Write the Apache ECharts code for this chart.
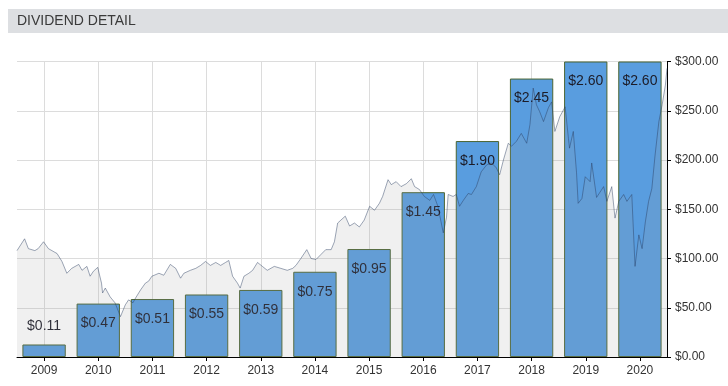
<!DOCTYPE html>
<html>
<head>
<meta charset="utf-8">
<script src="https://cdn.jsdelivr.net/npm/echarts@6/dist/echarts.min.js"></script>
<style>
html,body{margin:0;padding:0;background:#fff;}
#chart{width:728px;height:386px;}
</style>
</head>
<body>
<div id="chart"></div>
<script>
const titleText = 'DIVIDEND DETAIL';
const years = ['2009','2010','2011','2012','2013','2014','2015','2016','2017','2018','2019','2020'];
const dividends = [0.11,0.47,0.51,0.55,0.59,0.75,0.95,1.45,1.90,2.45,2.60,2.60];
const priceTicks = [0,50,100,150,200,250,300];

const priceDates = [
2009.00,2009.02,2009.14,2009.21,2009.33,2009.39,2009.49,2009.58,2009.74,2009.83,2009.92,
2010.01,2010.14,2010.20,2010.29,2010.35,2010.41,2010.49,2010.56,2010.58,2010.63,2010.72,2010.81,2010.91,
2011.00,2011.06,2011.14,2011.19,2011.28,2011.37,2011.43,2011.49,2011.62,2011.71,2011.83,2011.93,
2012.02,2012.08,2012.11,2012.20,2012.30,2012.39,2012.48,2012.57,2012.67,2012.76,2012.85,2012.91,2012.98,
2013.07,2013.12,2013.19,2013.28,2013.35,2013.44,2013.53,2013.62,2013.75,2013.87,2013.99,
2014.09,2014.15,2014.24,2014.35,2014.43,2014.52,2014.61,2014.70,2014.80,2014.86,2014.92,2014.98,
2015.06,2015.14,2015.23,2015.32,2015.41,2015.51,2015.60,2015.69,2015.75,2015.85,2015.91,
2016.00,2016.09,2016.19,2016.28,2016.34,2016.43,2016.52,2016.62,2016.69,2016.77,2016.87,2016.93,2016.96,
2017.05,2017.11,2017.17,2017.24,2017.33,2017.39,2017.48,2017.57,2017.67,2017.76,2017.85,2017.91,2017.98,
2018.07,2018.13,2018.22,2018.31,2018.41,2018.47,2018.53,2018.59,2018.65,2018.72,2018.81,2018.87,2018.93,
2019.02,2019.12,2019.18,2019.20,2019.27,2019.33,2019.36,2019.43,2019.49,2019.58,2019.61,2019.70,2019.83,2019.89,2019.92,2019.98,
2020.04,2020.11,2020.20,2020.26,2020.35,2020.41,2020.48,2020.54,2020.60,2020.66,2020.72,2020.78,2020.85,2020.91,2020.97,2021.00
];
const priceValues = [
108,109,120,110,108,110,117,110,105,97,85,
90,94,88,92,82,87,91,75,65,70,61,55,41,
53,58,55,60,68,75,77,82,85,83,94,90,
80,85,85,88,90,93,97,93,96,93,96,98,82,
75,70,82,85,88,96,92,88,92,90,88,
90,93,100,109,100,99,104,109,109,117,136,139,
143,133,136,132,139,153,149,156,163,180,175,
178,173,176,181,173,170,163,159,165,153,126,142,165,
163,165,153,159,166,165,173,188,195,197,192,185,200,
217,214,219,227,217,236,273,256,249,239,253,259,229,
244,254,222,212,229,187,156,161,183,178,197,162,173,158,156,173,
141,158,165,158,165,92,124,110,137,158,171,205,239,256,276,293
];

const pricePoints = priceDates.map((d, i) => [d, priceValues[i]]);
const barData = dividends.map(v => ({
  value: v,
  label: v < 0.2 ? { position: 'top', distance: 11 } : undefined
}));

const chart = echarts.init(document.getElementById('chart'), null, { renderer: 'canvas' });
const axisFont = { fontFamily: 'Liberation Sans, Arial, sans-serif', fontSize: 12, color: '#333' };

chart.setOption({
  animation: false,
  backgroundColor: '#fff',
  graphic: [
    { type: 'rect', left: 8, top: 9, shape: { width: 720, height: 24 }, style: { fill: '#dddfe2' }, z: -1 },
    { type: 'text', left: 17, top: 14, style: { text: titleText, fill: '#3a3a3a', font: '14px "Liberation Sans", Arial, sans-serif' } }
  ],
  grid: { left: 17, right: 61, top: 61.5, bottom: 29, containLabel: false },
  xAxis: [
    {
      type: 'category',
      data: years,
      boundaryGap: true,
      axisLine: { show: true, lineStyle: { color: '#000', width: 1 } },
      axisTick: { show: true, alignWithLabel: true, length: 4, lineStyle: { color: '#000' } },
      axisLabel: Object.assign({ margin: 8 }, axisFont),
      splitLine: { show: true, alignWithLabel: true, lineStyle: { color: '#dcdcdc', width: 1 } }
    },
    {
      type: 'value',
      min: 2009,
      max: 2021,
      show: false,
      splitLine: { show: false }
    }
  ],
  yAxis: [
    {
      type: 'value',
      position: 'right',
      min: 0,
      max: 300,
      interval: 50,
      axisLine: { show: true, lineStyle: { color: '#000', width: 1 } },
      axisTick: { show: true, length: 4, lineStyle: { color: '#000' } },
      axisLabel: Object.assign({ margin: 8, formatter: v => '$' + v.toFixed(2) }, axisFont),
      splitLine: { show: true, lineStyle: { color: '#dcdcdc', width: 1 } }
    },
    {
      type: 'value',
      min: 0,
      max: 2.6,
      show: false,
      splitLine: { show: false }
    }
  ],
  series: [
    {
      type: 'bar',
      xAxisIndex: 0,
      yAxisIndex: 1,
      data: barData,
      barCategoryGap: '20%',
      z: 2,
      itemStyle: { color: '#599ddf', borderColor: '#4b6432', borderWidth: 1 },
      label: {
        show: true,
        position: 'insideTop',
        distance: 13,
        formatter: p => '$' + p.value.toFixed(2),
        fontFamily: 'Liberation Sans, Arial, sans-serif',
        fontSize: 14,
        color: '#1c1c28'
      }
    },
    {
      type: 'line',
      xAxisIndex: 1,
      yAxisIndex: 0,
      data: pricePoints,
      showSymbol: false,
      symbol: 'none',
      smooth: false,
      z: 3,
      lineStyle: { color: 'rgba(40,60,95,0.45)', width: 1 },
      areaStyle: { color: 'rgba(158,158,158,0.22)', origin: 'start' }
    }
  ]
});
</script>
</body>
</html>
